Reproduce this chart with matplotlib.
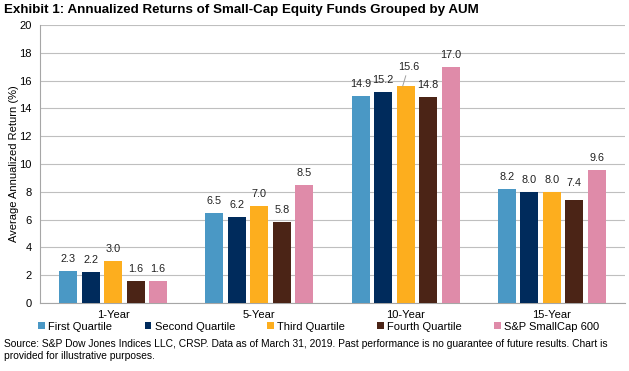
import matplotlib
matplotlib.use("Agg")
import matplotlib.pyplot as plt
import numpy as np

plt.rcParams['font.family'] = ['Liberation Sans', 'DejaVu Sans']

categories = ["1-Year", "5-Year", "10-Year", "15-Year"]
series_names = ["First Quartile", "Second Quartile", "Third Quartile", "Fourth Quartile", "S&P SmallCap 600"]
first_q = [2.3, 6.5, 14.9, 8.2]
second_q = [2.2, 6.2, 15.2, 8.0]
third_q = [3.0, 7.0, 15.6, 8.0]
fourth_q = [1.6, 5.8, 14.8, 7.4]
sp600 = [1.6, 8.5, 17.0, 9.6]
colors = ["#4A98C5", "#002B5C", "#FDAE1E", "#4B2416", "#DF8BA9"]

series = [first_q, second_q, third_q, fourth_q, sp600]

fig = plt.figure(figsize=(6.29, 3.71), dpi=100)
ax = fig.add_axes([0.0636, 0.1833, 0.930, 0.7493])

x = np.arange(len(categories))
w = 0.123
step = 0.154
base_off = 0.5
for i, (vals, name, c) in enumerate(zip(series, series_names, colors)):
    pos = x + (i - 2) * step
    ax.bar(pos, vals, width=w, color=c, label=name, zorder=3)
    for j, (p, v) in enumerate(zip(pos, vals)):
        if i == 2 and j == 2:
            # label moved up with leader line, as in the reference
            ax.annotate(f"{v:.1f}", xy=(p - 0.02, v), xytext=(p + 0.02, v + 1.05),
                        ha="center", va="bottom", fontsize=7.8, color="#222222",
                        arrowprops=dict(arrowstyle="-", color="#A0A0A0", lw=0.7,
                                        shrinkA=1, shrinkB=0))
        elif i == 3 and j == 3:
            ax.text(p, v + 0.85, f"{v:.1f}", ha="center", va="bottom", fontsize=7.8, color="#222222")
        else:
            ax.text(p, v + base_off, f"{v:.1f}", ha="center", va="bottom", fontsize=7.8, color="#222222")

ax.set_xlim(-0.5, 3.5)
ax.set_ylim(0, 20)
ax.set_yticks(np.arange(0, 21, 2))
ax.set_xticks(x)
ax.set_xticklabels(categories, fontsize=8)
ax.tick_params(axis='y', labelsize=8, length=0, pad=6)
ax.tick_params(axis='x', length=0, pad=5)
ax.yaxis.grid(True, color="#BFBFBF", linewidth=0.8, zorder=0)
for s in ["top", "right"]:
    ax.spines[s].set_visible(False)
ax.spines["left"].set_color("#A6A6A6")
ax.spines["bottom"].set_color("#A6A6A6")
ax.set_ylabel("Average Annualized Return (%)", fontsize=8, labelpad=0)

fig.text(0.006, 0.988, "Exhibit 1: Annualized Returns of Small-Cap Equity Funds Grouped by AUM",
         fontsize=9.6, fontweight="bold", ha="left", va="top")

handles, labels = ax.get_legend_handles_labels()
fig.legend(handles, labels, loc="center", bbox_to_anchor=(0.507, 0.119), ncol=5, frameon=False,
           fontsize=8, handlelength=0.6, handleheight=0.6, handletextpad=0.3, columnspacing=2.9,
           borderpad=0, borderaxespad=0)

fig.text(0.006, 0.087, "Source: S&P Dow Jones Indices LLC, CRSP. Data as of March 31, 2019. Past performance is no guarantee of future results. Chart is\nprovided for illustrative purposes.",
         fontsize=7.4, ha="left", va="top", linespacing=1.25)

fig.savefig("out.png", dpi=100)
